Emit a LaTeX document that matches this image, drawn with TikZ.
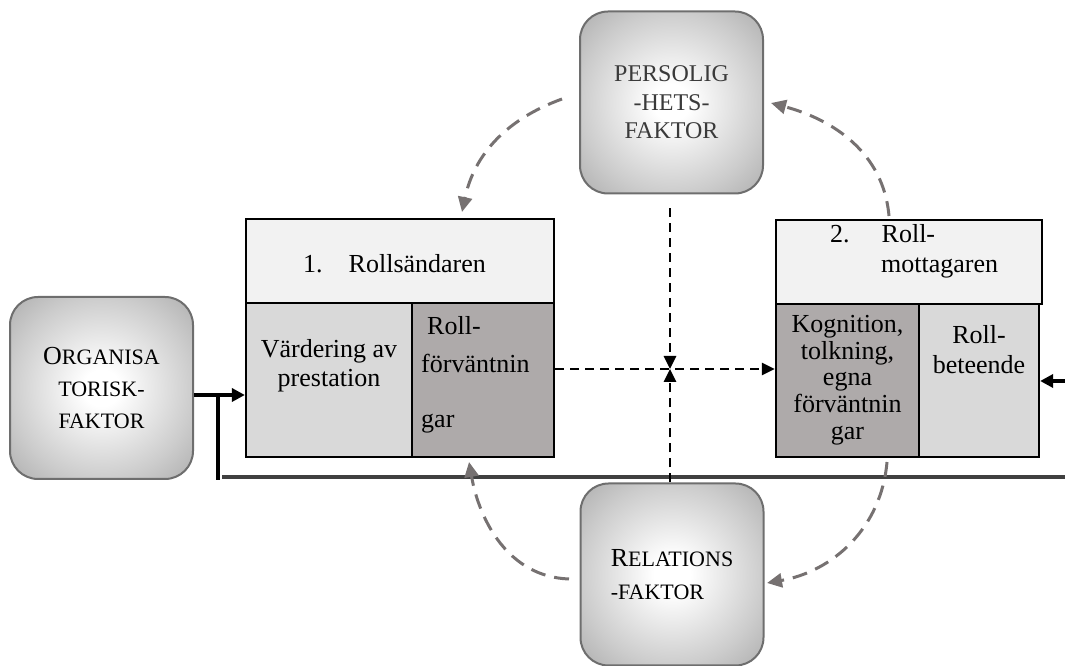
\documentclass[tikz,border=0pt]{standalone}
\usepackage{fontspec}
\setmainfont{Liberation Serif}
\usetikzlibrary{arrows.meta}
\pgfdeclareradialshading{factorshade}{\pgfpointorigin}{color(0bp)=(white); color(5bp)=(white); color(25bp)=(black!20); color(45bp)=(black!42); color(50bp)=(black!46)}
\definecolor{hdr}{HTML}{F2F2F2}
\definecolor{lightcell}{HTML}{D9D9D9}
\definecolor{darkcell}{HTML}{AEAAAA}
\definecolor{arcgray}{HTML}{767171}
\definecolor{fborder}{HTML}{6E6E6E}
\definecolor{rulegray}{HTML}{404040}
\definecolor{ptext}{HTML}{3A3A3A}
\tikzset{
  factor/.style={draw=fborder, line width=2pt, rounded corners=28pt, shade, shading=factorshade,
    minimum width=183pt, minimum height=182pt, inner sep=0pt},
  cellbox/.style={draw=black, line width=2.2pt, inner sep=0pt},
  txt/.style={inner sep=0pt, font=\fontsize{26}{27}\selectfont},
  grayarc/.style={draw=arcgray, line width=3pt, dash pattern=on 15pt off 9pt,
    -{Triangle[length=15pt,width=14pt]}},
  blackdash/.style={draw=black, line width=2.6pt, dash pattern=on 9pt off 6pt,
    -{Triangle[length=13pt,width=12pt]}},
  thickarrow/.style={draw=black, line width=3.8pt, -{Triangle[length=13pt,width=13pt]}},
}
\begin{document}
\begin{tikzpicture}[x=1pt,y=1pt]
\useasboundingbox (0,0) rectangle (1065,666);

% factor boxes
\node[factor, align=center, font=\fontsize{22}{32}\selectfont] (O) at (101.5,278)
  {{\fontsize{26}{32}\selectfont O}RGANISA\\TORISK-\\FAKTOR};
\node[factor, align=center, text=ptext, font=\fontsize{24}{28.5}\selectfont] (P) at (671.5,563.5)
  {PERSOLIG\\-HETS-\\FAKTOR};
\node[factor, align=left, font=\fontsize{22}{33}\selectfont] (R) at (672,91.5)
  {{\fontsize{26}{33}\selectfont R}ELATIONS\\-FAKTOR};

% box 1
\node[cellbox, fill=hdr, minimum width=308pt, minimum height=84pt] (b1h) at (400,405) {};
\node[cellbox, fill=lightcell, minimum width=166pt, minimum height=154pt] (b1l) at (329,286) {};
\node[cellbox, fill=darkcell, minimum width=142pt, minimum height=154pt] (b1r) at (483,286) {};
% box 2
\node[cellbox, fill=hdr, minimum width=266pt, minimum height=84pt] (b2h) at (909,404) {};
\node[cellbox, fill=darkcell, minimum width=143pt, minimum height=153pt] (b2l) at (847.5,285.5) {};
\node[cellbox, fill=lightcell, minimum width=120pt, minimum height=153pt] (b2r) at (979,285.5) {};

% texts box 1
\node[txt, anchor=base west] (t1h) at (303,393) {1.\hspace{26pt}Rollsändaren};
\node[txt, anchor=base] (t1a) at (329,308) {Värdering av};
\node[txt, anchor=base] (t1b) at (329,279) {prestation};
\node[txt, anchor=base west] (t1c) at (427,331) {Roll-};
\node[txt, anchor=base west] (t1d) at (421,293) {förväntnin};
\node[txt, anchor=base west] (t1e) at (421,238) {gar};
% texts box 2
\node[txt, anchor=base west] (t2a) at (830,423) {2.\hspace{32pt}Roll-};
\node[txt, anchor=base west] (t2b) at (881,393) {mottagaren};
\node[txt, anchor=base] (t2c) at (847.5,333) {Kognition,};
\node[txt, anchor=base] (t2d) at (847.5,306) {tolkning,};
\node[txt, anchor=base] (t2e) at (847.5,280) {egna};
\node[txt, anchor=base] (t2f) at (847.5,253) {förväntnin};
\node[txt, anchor=base] (t2g) at (847.5,226) {gar};
\node[txt, anchor=base] (t2h) at (979,322) {Roll-};
\node[txt, anchor=base] (t2i) at (979,292) {beteende};

% horizontal rule
\coordinate (hl) at (222,189);
\coordinate (hr) at (1065,189);
\draw[rulegray, line width=3.5pt] (hl) -- (hr);

% organisational arrow with stem
\coordinate (oj) at (218,271);
\coordinate (ob) at (218,186);
\draw[thickarrow] (O.east |- oj) -- (b1l.west |- oj);
\draw[black, line width=3.2pt] (oj) -- (ob);

% roll-beteende arrow
\coordinate (rb) at (1065,285);
\draw[thickarrow] (rb) -- (b2r.east |- rb);

% centre cross
\coordinate (c) at (670,297);
\draw[blackdash, shorten <=14pt] (c |- P.south) -- (c);
\draw[blackdash] (c |- R.north) -- (c);
\draw[blackdash] (b1r.east |- c) -- (b2l.west |- c);

% gray curved arrows
\coordinate (g1s) at (562,567);
\coordinate (g1e) at (462,454);
\coordinate (g2s) at (889,450);
\coordinate (g2e) at (771,563);
\coordinate (g3s) at (569,87);
\coordinate (g3e) at (469,204);
\coordinate (g4s) at (887,204);
\coordinate (g4e) at (767,83);
\draw[grayarc] (g1s) to[out=200,in=78] (g1e);
\draw[grayarc] (g2s) to[out=95,in=-15] (g2e);
\draw[grayarc] (g3s) to[out=178,in=-80] (g3e);
\draw[grayarc] (g4s) to[out=265,in=10] (g4e);
\end{tikzpicture}
\end{document}
